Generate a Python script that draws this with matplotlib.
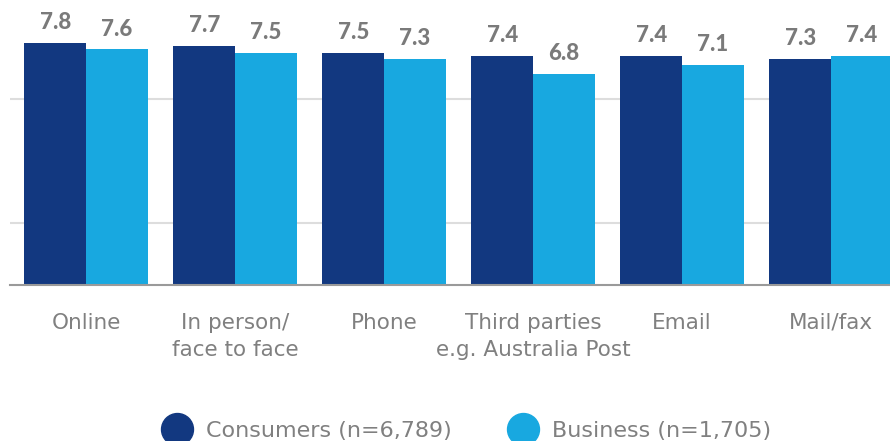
import numpy as np
import matplotlib.pyplot as plt
from matplotlib.lines import Line2D

# data
channels = ["Online", "In person/\nface to face", "Phone",
            "Third parties\ne.g. Australia Post", "Email", "Mail/fax"]
consumers = [7.8, 7.7, 7.5, 7.4, 7.4, 7.3]
business = [7.6, 7.5, 7.3, 6.8, 7.1, 7.4]
series_names = ["Consumers (n=6,789)", "Business (n=1,705)"]

dark_blue = "#123880"
light_blue = "#18a8e0"
grey_txt = "#808080"

fig = plt.figure(figsize=(8.9, 4.41), dpi=100)
ax = fig.add_axes([10/890, 156/441, 880/890, 285/441])

x = np.arange(len(channels))
w = 0.413
ax.bar(x - w/2, consumers, w, color=dark_blue, zorder=3)
ax.bar(x + w/2, business, w, color=light_blue, zorder=3)

for xs, vals in [(x - w/2, consumers), (x + w/2, business)]:
    for xi, v in zip(xs, vals):
        ax.annotate(f"{v:.1f}", (xi, v), xytext=(0, 10), textcoords="offset points",
                    ha="center", va="baseline", fontsize=16, fontweight="black",
                    color="#7a7a7a", family="Lato")

ax.set_xlim(-0.51, 5.396)
ax.set_ylim(0, 285/31)

# light gridlines
ax.set_yticks([2, 6])
ax.yaxis.grid(True, color="#dddddd", lw=1.5, zorder=0)
ax.tick_params(axis="y", length=0, labelleft=False)

ax.set_xticks(x)
ax.set_xticklabels(channels, fontsize=15.5, color=grey_txt, linespacing=1.45)
ax.tick_params(axis="x", length=0, pad=20)

for s in ["top", "right", "left"]:
    ax.spines[s].set_visible(False)
ax.spines["bottom"].set_color("#9a9a9a")
ax.spines["bottom"].set_linewidth(1.5)
ax.spines["bottom"].set_zorder(4)

handles = [Line2D([], [], marker="o", ls="", markersize=23, color=dark_blue),
           Line2D([], [], marker="o", ls="", markersize=23, color=light_blue)]
fig.legend(handles, series_names, loc="center", bbox_to_anchor=(0.52, 10/441),
           ncol=2, frameon=False, fontsize=16, labelcolor=grey_txt,
           handletextpad=0.3, columnspacing=2.2, borderaxespad=0)

fig.savefig("out.png", dpi=100)
